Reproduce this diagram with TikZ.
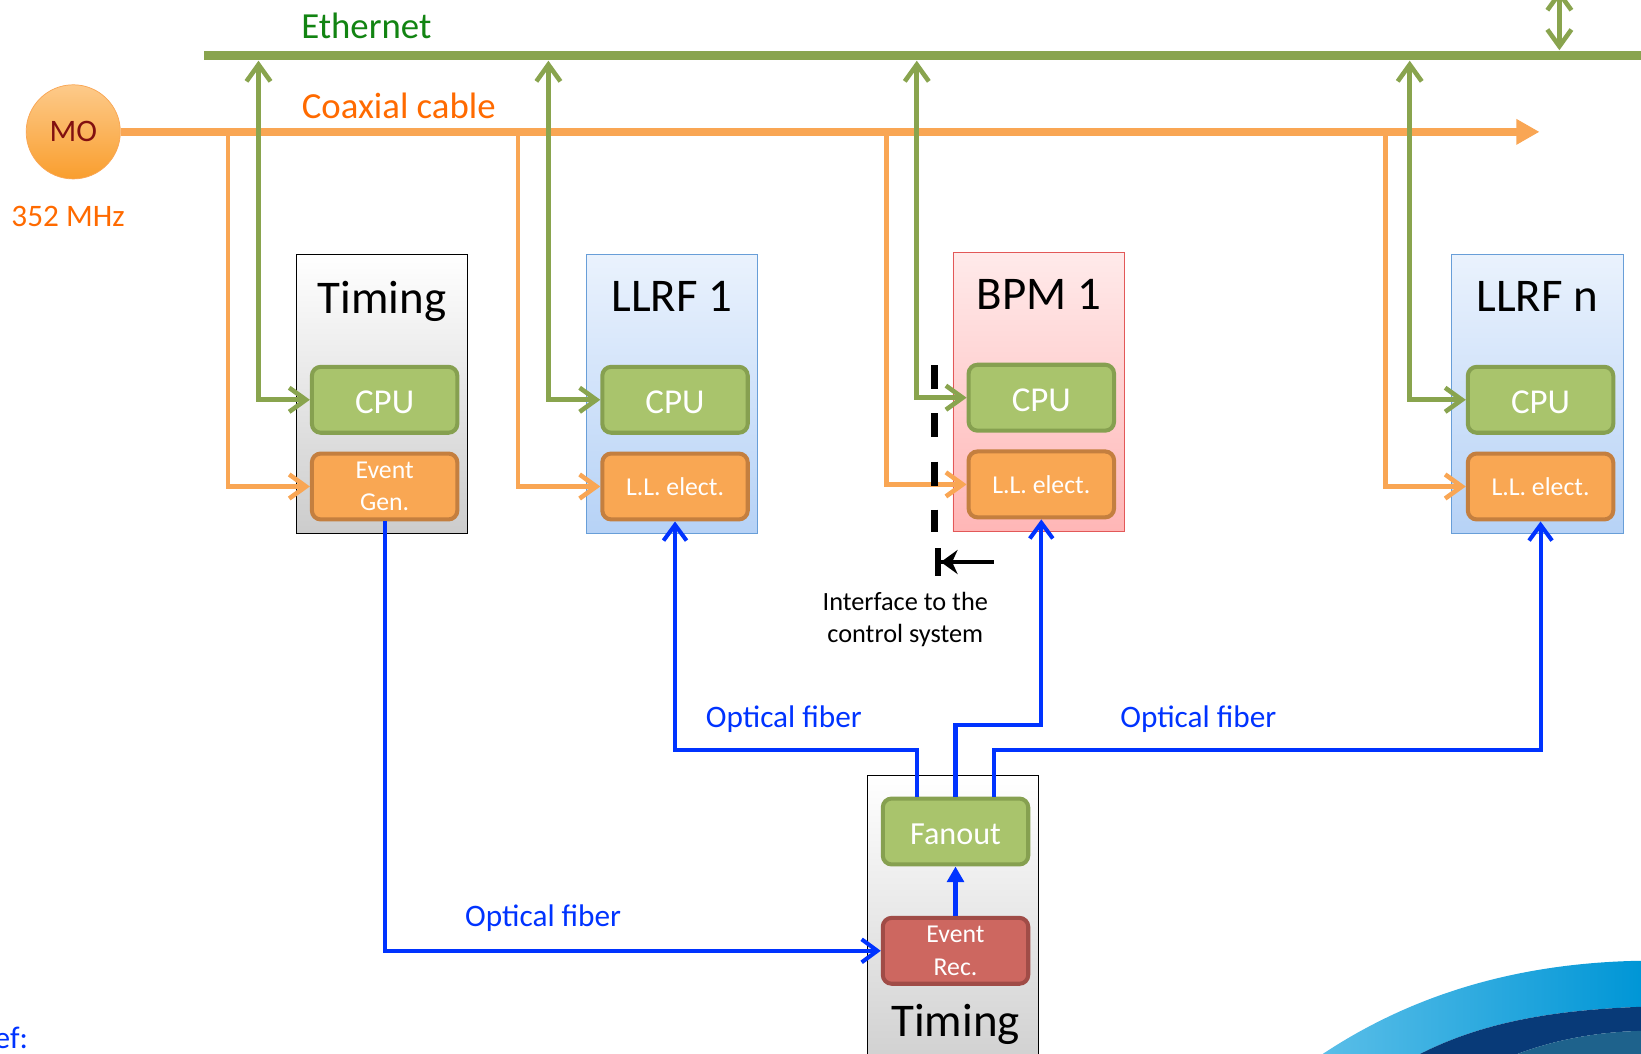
\documentclass[tikz,border=0pt]{standalone}
\usepackage{fontspec}
\setmainfont{Carlito}
\usepackage{tikz}
\usetikzlibrary{positioning}
\usetikzlibrary{arrows.meta}

\definecolor{ethGreen}{RGB}{137,164,78}
\definecolor{cpuGreen}{RGB}{169,196,108}
\definecolor{cpuEdge}{RGB}{134,160,80}
\definecolor{coaxOrange}{RGB}{249,166,84}
\definecolor{elecOrange}{RGB}{249,167,83}
\definecolor{elecEdge}{RGB}{196,127,63}
\definecolor{recRed}{RGB}{205,103,96}
\definecolor{recEdge}{RGB}{160,76,71}
\definecolor{fiberBlue}{RGB}{0,51,255}
\definecolor{txtGreen}{RGB}{18,132,18}
\definecolor{txtOrange}{RGB}{255,106,0}
\definecolor{moTop}{RGB}{253,202,138}
\definecolor{moBot}{RGB}{249,158,46}
\definecolor{moText}{RGB}{130,16,16}
\definecolor{llrfEdge}{RGB}{104,158,216}
\definecolor{llrfTop}{RGB}{234,242,253}
\definecolor{llrfBot}{RGB}{182,210,246}
\definecolor{bpmEdge}{RGB}{226,88,88}
\definecolor{bpmTop}{RGB}{255,234,234}
\definecolor{bpmBot}{RGB}{255,182,182}
\definecolor{swooshLight}{RGB}{90,190,232}
\definecolor{swooshMid}{RGB}{0,150,214}
\definecolor{swooshDark}{RGB}{8,58,120}
\definecolor{swooshTeal}{RGB}{30,98,140}

\tikzstyle{crate} = [draw, thin, minimum width=3.28cm, minimum height=5.34cm, inner sep=0pt]
\tikzstyle{timingcrate} = [crate, draw=black, top color=white, bottom color=black!20]
\tikzstyle{llrfcrate} = [crate, draw=llrfEdge, top color=llrfTop, bottom color=llrfBot]
\tikzstyle{bpmcrate} = [crate, draw=bpmEdge, top color=bpmTop, bottom color=bpmBot]
\tikzstyle{cratetitle} = [font=\fontsize{25.5}{30}\selectfont]
\tikzstyle{modbox} = [draw, rounded corners=0.17cm, line width=2.2pt, minimum width=2.78cm, minimum height=1.26cm, text=white, align=center]
\tikzstyle{cpubox} = [modbox, fill=cpuGreen, draw=cpuEdge, font=\fontsize{19}{22}\selectfont, text height=15.5pt]
\tikzstyle{elecbox} = [modbox, fill=elecOrange, draw=elecEdge, font=\fontsize{14}{17.5}\selectfont]
\tikzstyle{recbox} = [modbox, fill=recRed, draw=recEdge, font=\fontsize{14}{17.5}\selectfont]
\tikzstyle{bus} = [ethGreen, line width=5pt]
\tikzstyle{coax} = [coaxOrange, line width=4pt, ->, >={Triangle[length=0.44cm,width=0.46cm]}]
\tikzstyle{ethlink} = [ethGreen, line width=2.5pt, <->, >={Straight Barb[length=0.32cm,width=0.46cm]}]
\tikzstyle{coaxlink} = [coaxOrange, line width=2.5pt, ->, >={Straight Barb[length=0.32cm,width=0.46cm]}]
\tikzstyle{fiber} = [fiberBlue, line width=2.2pt, ->, >={Straight Barb[length=0.3cm,width=0.44cm]}]
\tikzstyle{fiberlabel} = [text=fiberBlue, font=\fontsize{17}{20}\selectfont]

\begin{document}
\begin{tikzpicture}[x=0.02cm, y=-0.02cm]
	\clip (0,0) rectangle (1568,1007);
	
	%Nodes
	\node [circle, draw=coaxOrange, thin, top color=moTop, bottom color=moBot, minimum size=1.8cm, text=moText, font=\fontsize{17}{20}\selectfont] (mo) at (70,126) {MO};
	\node [text=txtOrange, font=\fontsize{17}{20}\selectfont] (moFreq) at (65,207) {352 MHz};
	\node [text=txtGreen, font=\fontsize{20}{24}\selectfont] (ethLabel) at (350,25) {Ethernet};
	\node [text=txtOrange, font=\fontsize{20}{24}\selectfont] (coaxLabel) at (381,101) {Coaxial cable};
	
	\node [timingcrate] (timingCrate) at (365,376.5) {};
	\node [llrfcrate] (llrf1Crate) at (642,376.5) {};
	\node [bpmcrate] (bpmCrate) at (992.5,374.5) {};
	\node [llrfcrate] (llrfnCrate) at (1469,376.5) {};
	\node [timingcrate, minimum height=6cm] (fanCrate) at (910.5,891) {};
	
	\node [cratetitle] (timingTitle) at ([yshift=-0.9cm]timingCrate.north) {Timing};
	\node [cratetitle] (llrf1Title) at ([yshift=-0.82cm]llrf1Crate.north) {LLRF 1};
	\node [cratetitle] (bpmTitle) at ([yshift=-0.82cm]bpmCrate.north) {BPM 1};
	\node [cratetitle] (llrfnTitle) at ([yshift=-0.82cm]llrfnCrate.north) {LLRF n};
	
	\node [cpubox] (cpuT) at (367.5,382) {CPU};
	\node [elecbox, below=0.32cm of cpuT] (evGen) {Event\\Gen.};
	\node [cpubox] (cpu1) at (645,382) {CPU};
	\node [elecbox, below=0.32cm of cpu1] (ll1) {L.L. elect.};
	\node [cpubox] (cpuB) at (995,380) {CPU};
	\node [elecbox, below=0.32cm of cpuB] (llB) {L.L. elect.};
	\node [cpubox] (cpun) at (1472,382) {CPU};
	\node [elecbox, below=0.32cm of cpun] (lln) {L.L. elect.};
	
	\node [cpubox, font=\fontsize{17.5}{21}\selectfont, text height=14pt] (fanout) at (913,794.5) {Fanout};
	\node [recbox] (evRec) at (913,908.5) {Event\\Rec.};
	\node [cratetitle] (fanTitle) at ([yshift=-0.74cm]evRec.south) {Timing};
	
	\node [align=center, font=\fontsize{14.3}{17}\selectfont] (ifText) at (865,592) {Interface to the\\control system};
	\node [fiberlabel] (fiberL) at (749,687) {Optical fiber};
	\node [fiberlabel] (fiberR) at (1145,687) {Optical fiber};
	\node [fiberlabel] (fiberB) at (519,877) {Optical fiber};
	\node [fiberlabel, anchor=east, inner sep=0pt] (refText) at (27,992) {ef:};
	
	\coordinate (busL) at (195,53);
	\coordinate (busR) at (1568,53);
	\coordinate (busIn) at (1490,-10);
	\coordinate (busTop) at (1490,48);
	\coordinate (coaxEnd) at (1471,126);
	\coordinate (ethT) at (247,58);
	\coordinate (eth1) at (524,58);
	\coordinate (ethB) at (876,58);
	\coordinate (ethn) at (1347,58);
	\coordinate (coaxT) at (218,126);
	\coordinate (coax1) at (495,126);
	\coordinate (coaxB) at (847,126);
	\coordinate (coaxn) at (1324,126);
	\coordinate (ifTop) at (893,349);
	\coordinate (ifBot) at (893,508);
	\coordinate (ifMark) at (893,537);
	
	%Lines
	\draw[bus] (busL) -- (busR);
	\draw[ethlink] (busIn) -- (busTop);
	\draw[coax] (mo.east) -- (coaxEnd);
	
	\draw[coaxlink] (coaxT) |- (evGen.west);
	\draw[coaxlink] (coax1) |- (ll1.west);
	\draw[coaxlink] (coaxB) |- (llB.west);
	\draw[coaxlink] (coaxn) |- (lln.west);
	
	\draw[ethlink] (ethT) |- (cpuT.west);
	\draw[ethlink] (eth1) |- (cpu1.west);
	\draw[ethlink] (ethB) |- (cpuB.west);
	\draw[ethlink] (ethn) |- (cpun.west);
	
	\draw[black, line width=3.4pt, dash pattern=on 0.46cm off 0.46cm] (ifTop) -- (ifBot);
	\draw[black, line width=1.9pt, {Bar[width=0.52cm,line width=3.4pt]Stealth[length=0.32cm,width=0.46cm]}-] (ifMark) -- ++(57,0);
	
	\draw[fiber] (evGen.south) |- (evRec.west);
	\draw[fiber] ([xshift=-0.74cm]fanout.north) -- ++(0,-44) -| (ll1.south);
	\draw[fiber] (fanout.north) -- ++(0,-68) -| (llB.south);
	\draw[fiber] ([xshift=0.74cm]fanout.north) -- ++(0,-44) -| (lln.south);
	\draw[fiber, >={Triangle[length=0.3cm,width=0.32cm]}] (evRec.north) -- (fanout.south);
	
	% corner swoosh
	\shade[left color=swooshLight, right color=swooshMid] (1264,1007) .. controls (1350,950) and (1450,920) .. (1568,918) -- (1568,962) .. controls (1490,965) and (1420,975) .. (1357,1007) -- cycle;
	\fill[swooshDark] (1357,1007) .. controls (1420,975) and (1490,965) .. (1568,962) -- (1568,985) .. controls (1530,986) and (1490,992) .. (1450,1007) -- cycle;
	\fill[swooshTeal] (1450,1007) .. controls (1490,992) and (1530,986) .. (1568,985) -- (1568,1007) -- cycle;
\end{tikzpicture}
\end{document}
